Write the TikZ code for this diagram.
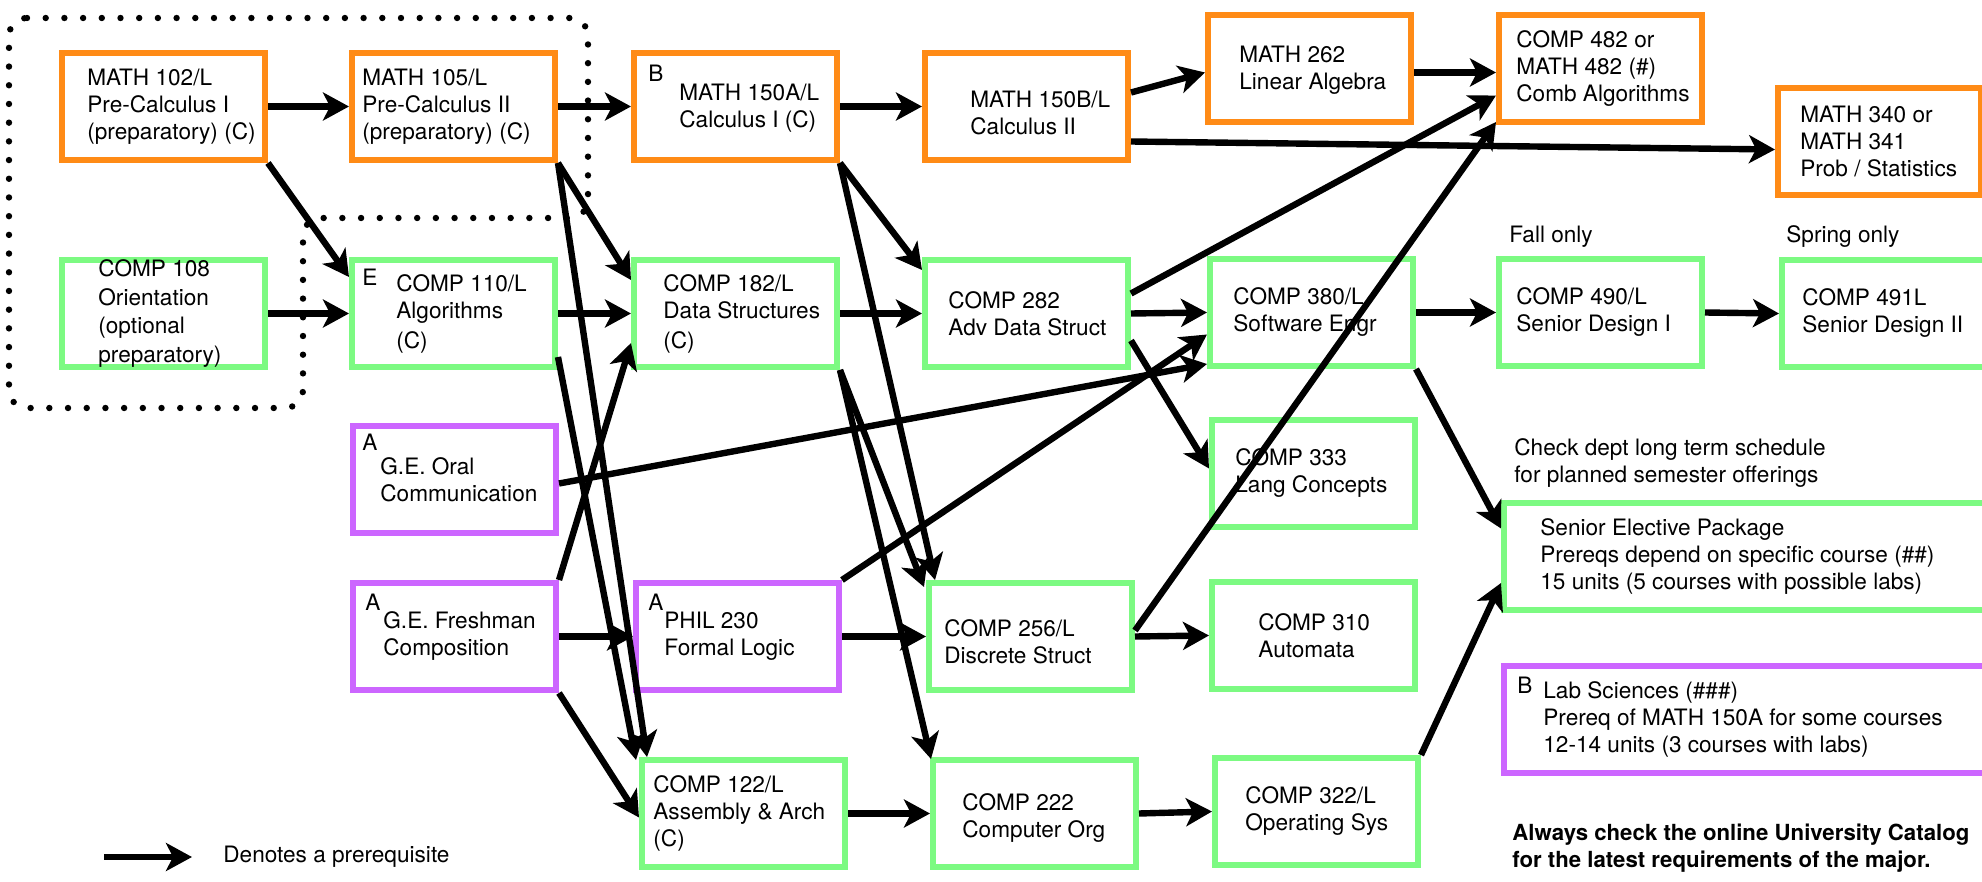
\documentclass[tikz,border=0pt]{standalone}
\usepackage{fontspec}
\setmainfont{TeX Gyre Heros}
\usetikzlibrary{arrows.meta,positioning,calc}
\definecolor{mathorange}{RGB}{255,139,22}
\definecolor{compgreen}{RGB}{124,250,130}
\definecolor{gepurple}{RGB}{204,102,255}

\begin{document}
\begin{tikzpicture}[x=0.5pt,y=-0.5pt,
   font=\fontsize{11.3}{13.5}\selectfont,
   course/.style={draw=#1, fill=white, line width=2.9pt, anchor=north west,
      minimum width=101.6pt, minimum height=53.6pt, inner sep=0pt},
   widecourse/.style={course=#1, minimum width=260pt},
   txt/.style={align=left, inner sep=0pt, anchor=west},
   cornerlbl/.style={inner sep=0pt, anchor=west},
   pre/.style={-{Stealth[length=13pt,width=14pt,inset=3.5pt]}, line width=3.2pt}]
   \useasboundingbox (0,0) rectangle (1982,882);

   \draw[line width=3.2pt, line cap=round, dash pattern=on 0pt off 9.35pt, rounded corners=9pt]
      (9,18) -- (588,18) -- (588,218) -- (303,218) -- (303,408) -- (9,408) -- cycle;

   \node[course=mathorange] (m102) at (59,50) {};
   \node[course=mathorange] (m105) at (349,50) {};
   \node[course=mathorange] (m150a) at (631,50) {};
   \node[course=mathorange] (m150b) at (922,50) {};
   \node[course=mathorange] (m262) at (1205,12) {};
   \node[course=mathorange] (c482) at (1496,12) {};
   \node[course=mathorange] (m340) at (1775,85) {};

   \node[course=compgreen] (c108) at (59,257) {};
   \node[course=compgreen] (c110) at (349,257) {};
   \node[course=compgreen] (c182) at (631,257) {};
   \node[course=compgreen] (c282) at (922,257) {};
   \node[course=compgreen] (c380) at (1207,256) {};
   \node[course=compgreen] (c490) at (1496,256) {};
   \node[course=compgreen] (c491) at (1779,257) {};

   \node[course=gepurple] (geo) at (350,423) {};
   \node[course=compgreen] (c333) at (1209,417) {};
   \node[widecourse=compgreen] (sep) at (1501,500) {};

   \node[course=gepurple] (gef) at (350,580) {};
   \node[course=gepurple] (phil) at (633,580) {};
   \node[course=compgreen] (c256) at (926,580) {};
   \node[course=compgreen] (c310) at (1209,579) {};
   \node[widecourse=gepurple] (lab) at (1501,663) {};

   \node[course=compgreen] (c122) at (639,757) {};
   \node[course=compgreen] (c222) at (930,757) {};
   \node[course=compgreen] (c322) at (1212,755) {};

   % texts in the boxes
   \node[txt, right=14pt of m102.west] (m102t) {MATH 102/L\\Pre-Calculus I\\(preparatory) (C)};
   \node[txt, right=6.5pt of m105.west] (m105t) {MATH 105/L\\Pre-Calculus II\\(preparatory) (C)};
   \node[txt, right=24pt of m150a.west, yshift=-1pt] (m150at) {MATH 150A/L\\Calculus I (C)};
   \node[txt, right=24pt of m150b.west, yshift=-3pt] (m150bt) {MATH 150B/L\\Calculus II};
   \node[txt, right=17pt of m262.west, yshift=-1pt] (m262t) {MATH 262\\Linear Algebra};
   \node[txt, right=10pt of c482.west] (c482t) {COMP 482 or\\MATH 482 (\#)\\Comb Algorithms};
   \node[txt, right=12.5pt of m340.west] (m340t) {MATH 340 or\\MATH 341\\Prob / Statistics};

   \node[txt, right=19.5pt of c108.west, font=\fontsize{11.3}{14.2}\selectfont] (c108t) {COMP 108\\Orientation\\(optional\\preparatory)};
   \node[txt, right=23.5pt of c110.west] (c110t) {COMP 110/L\\Algorithms\\[1.5pt](C)};
   \node[txt, right=16pt of c182.west] (c182t) {COMP 182/L\\Data Structures\\[1.5pt](C)};
   \node[txt, right=13pt of c282.west] (c282t) {COMP 282\\Adv Data Struct};
   \node[txt, right=13pt of c380.west] (c380t) {COMP 380/L\\Software Engr};
   \node[txt, right=10pt of c490.west] (c490t) {COMP 490/L\\Senior Design I};
   \node[txt, right=11.5pt of c491.west] (c491t) {COMP 491L\\Senior Design II};

   \node[txt, right=15pt of geo.west] (geot) {G.E. Oral\\Communication};
   \node[txt, right=13pt of c333.west] (c333t) {COMP 333\\Lang Concepts};
   \node[txt, right=19.5pt of sep.west] (sept) {Senior Elective Package\\Prereqs depend on specific course (\#\#)\\15 units (5 courses with possible labs)};

   \node[txt, right=16.5pt of gef.west] (geft) {G.E. Freshman\\Composition};
   \node[txt, right=15.5pt of phil.west] (philt) {PHIL 230\\Formal Logic};
   \node[txt, right=9pt of c256.west, yshift=-2.5pt] (c256t) {COMP 256/L\\Discrete Struct};
   \node[txt, right=24.5pt of c310.west] (c310t) {COMP 310\\Automata};
   \node[txt, right=21pt of lab.west] (labt) {Lab Sciences (\#\#\#)\\Prereq of MATH 150A for some courses\\12-14 units (3 courses with labs)};

   \node[txt, right=7pt of c122.west] (c122t) {COMP 122/L\\Assembly \& Arch\\(C)};
   \node[txt, right=16pt of c222.west, yshift=-2.5pt] (c222t) {COMP 222\\Computer Org};
   \node[txt, right=16.5pt of c322.west] (c322t) {COMP 322/L\\Operating Sys};

   % letters in the corners
   \node[cornerlbl] (m150ab) at ($(m150a.north west)+(17,23)$) {B};
   \node[cornerlbl] (c110e) at ($(c110.north west)+(13,20)$) {E};
   \node[cornerlbl] (geoa) at ($(geo.north west)+(12,19)$) {A};
   \node[cornerlbl] (gefa) at ($(gef.north west)+(15,22)$) {A};
   \node[cornerlbl] (phila) at ($(phil.north west)+(15,22)$) {A};
   \node[cornerlbl] (labb) at ($(lab.north west)+(16,22)$) {B};

   % notes
   \node[txt] (fall) at (1509,237) {Fall only};
   \node[txt] (spring) at (1786,237) {Spring only};
   \node[txt] (check) at (1514,463) {Check dept long term schedule\\for planned semester offerings};
   \node[txt, font=\fontsize{11.1}{13.5}\selectfont\bfseries] (catalog) at (1512,848) {Always check the online University Catalog\\for the latest requirements of the major.};
   \coordinate (legs) at (104,857);
   \coordinate (lege) at (192,857);
   \node[txt] (legt) at (223,857) {Denotes a prerequisite};
   \draw[pre] (legs) -- (lege);

   % prerequisites
   \draw[pre] (m102.east) -- (m105.west);
   \draw[pre] (m105.east) -- (m150a.west);
   \draw[pre] (m150a.east) -- (m150b.west);
   \draw[pre] ($(m150b.east)+(0,-14)$) -- ($(m262.west)+(0,4)$);
   \draw[pre] ($(m262.east)+(0,4)$) -- ($(c482.west)+(0,4)$);
   \draw[pre] ($(m150b.east)+(0,35)$) -- ($(m340.west)+(0,8)$);

   \draw[pre] (m102.south east) -- ($(c110.north west)+(0,20)$);
   \draw[pre] (c108.east) -- (c110.west);
   \draw[pre] (m105.south east) -- ($(c182.north west)+(0,23)$);
   \draw[pre] (m105.south east) -- ($(c122.north west)+(8,0)$);
   \draw[pre] ($(c110.south east)+(0,-13)$) -- ($(c122.north west)+(-3,3)$);
   \draw[pre] (c110.east) -- (c182.west);
   \draw[pre] (gef.north east) -- ($(c182.south west)+(0,-27)$);
   \draw[pre] (m150a.south east) -- ($(c282.north west)+(0,13)$);
   \draw[pre] (m150a.south east) -- ($(c256.north west)+(9,0)$);
   \draw[pre] (c182.east) -- (c282.west);
   \draw[pre] (c182.south east) -- ($(c256.north west)+(-2,7)$);
   \draw[pre] (c182.south east) -- ($(c222.north west)+(1,2)$);
   \draw[pre] (c282.east) -- (c380.west);
   \draw[pre] ($(c282.east)+(0,-20)$) -- ($(c482.west)+(0,27)$);
   \draw[pre] ($(c282.east)+(0,27)$) -- ($(c333.west)+(0,-5)$);
   \draw[pre] ($(geo.east)+(0,4)$) -- ($(c380.south west)+(0,-5)$);
   \draw[pre] (phil.north east) -- ($(c380.west)+(0,22)$);
   \draw[pre] (c380.east) -- (c490.west);
   \draw[pre] (c490.east) -- (c491.west);
   \draw[pre] (c380.south east) -- ($(sep.west)+(0,-28)$);
   \draw[pre] ($(c256.east)+(0,-6)$) -- ($(c482.south west)+(0,-3)$);
   \draw[pre] (gef.east) -- (phil.west);
   \draw[pre] (phil.east) -- (c256.west);
   \draw[pre] (c256.east) -- (c310.west);
   \draw[pre] (gef.south east) -- ($(c122.west)+(0,4)$);
   \draw[pre] (c122.east) -- (c222.west);
   \draw[pre] (c222.east) -- (c322.west);
   \draw[pre] (c322.north east) -- ($(sep.south west)+(0,-30)$);
\end{tikzpicture}
\end{document}
